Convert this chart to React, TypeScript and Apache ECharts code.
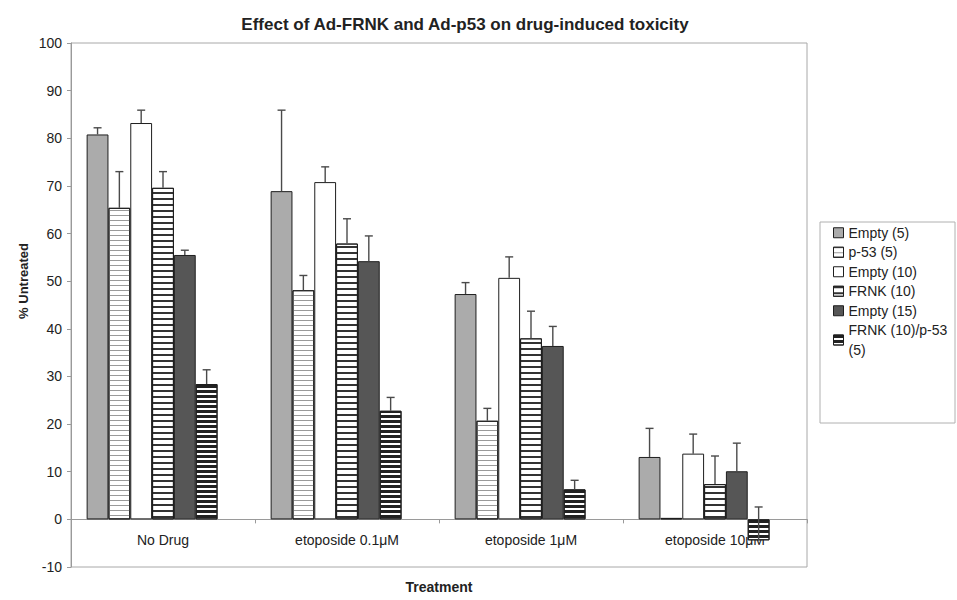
import React, { useEffect, useRef } from "react";
import * as echarts from "echarts";

const categories = ["No Drug", "etoposide 0.1μM", "etoposide 1μM", "etoposide 10μM"];
const seriesNames = ["Empty (5)", "p-53 (5)", "Empty (10)", "FRNK (10)", "Empty (15)", "FRNK (10)/p-53 (5)"];

const empty5 = [80.8, 68.9, 47.3, 13.1];
const p53_5 = [65.4, 48.1, 20.7, 0.3];
const empty10 = [83.2, 70.8, 50.7, 13.8];
const frnk10 = [69.6, 57.9, 38.0, 7.4];
const empty15 = [55.5, 54.2, 36.4, 10.1];
const frnkP53 = [28.4, 22.8, 6.3, -4.4];

// upper end of each error bar
const empty5Err = [82.2, 85.9, 49.7, 19.1];
const p53_5Err = [73.0, 51.2, 23.3, null];
const empty10Err = [85.9, 74.0, 55.1, 17.9];
const frnk10Err = [73.0, 63.1, 43.7, 13.3];
const empty15Err = [56.5, 59.5, 40.5, 16.0];
const frnkP53Err = [31.4, 25.6, 8.2, 2.6];

const yTicks = { min: -10, max: 100, interval: 10 };

const values = [empty5, p53_5, empty10, frnk10, empty15, frnkP53];
const errors = [empty5Err, p53_5Err, empty10Err, frnk10Err, empty15Err, frnkP53Err];

const FONT = "Liberation Sans, Arial, sans-serif";
const GAP = 0.17;
const SLOTS = 7;

const stripe = (thick: number, gap: number, color: string) => ({
  symbol: "rect",
  symbolSize: 1,
  dashArrayX: [10, 0],
  dashArrayY: [thick, gap],
  rotation: 0,
  color,
});

const seriesStyles: any[] = [
  { color: "#ababab" },
  { color: "#ffffff", decal: stripe(1, 3.5, "#9a9a9a") },
  { color: "#ffffff" },
  { color: "#ffffff", decal: stripe(1.5, 3.8, "#333333") },
  { color: "#565656" },
  { color: "#ffffff", decal: stripe(2.4, 2, "#222222") },
];

export default function App() {
  const ref = useRef<HTMLDivElement>(null);
  useEffect(() => {
    if (!ref.current) return;
    const chart = echarts.init(ref.current, undefined, { renderer: "svg" });

    const errData: any[] = [];
    errors.forEach((arr, s) => {
      arr.forEach((top, c) => {
        if (top !== null) errData.push([c, s, values[s][c], top]);
      });
    });

    const barSeries: any[] = seriesNames.map((name, i) => ({
      name,
      type: "bar",
      data: values[i],
      barGap: "0%",
      barCategoryGap: GAP * 100 + "%",
      itemStyle: { ...seriesStyles[i], borderColor: "#1e1e1e", borderWidth: 1 },
      emphasis: { disabled: true },
    }));
    // empty reserved slot (as in original chart, bars sit left of center)
    barSeries.push({
      name: "__spacer",
      type: "bar",
      data: ["-", "-", "-", "-"],
      barGap: "0%",
      barCategoryGap: GAP * 100 + "%",
    });

    chart.setOption({
      animation: false,
      title: {
        text: "Effect of Ad-FRNK and Ad-p53 on drug-induced toxicity",
        left: 460,
        top: 11,
        textAlign: "center",
        textStyle: { fontFamily: FONT, fontSize: 17, fontWeight: "bold", color: "#222" },
      },
      grid: {
        left: 71,
        right: 150,
        top: 43,
        bottom: 33,
        show: true,
        borderColor: "#a8a8a8",
        borderWidth: 1,
        backgroundColor: "transparent",
      },
      legend: {
        data: seriesNames,
        orient: "vertical",
        left: 833,
        top: 223,
        padding: 0,
        itemGap: 0,
        itemWidth: 10,
        itemHeight: 10,
        icon: "rect",
        formatter: (n: string) => (n === "FRNK (10)/p-53 (5)" ? "FRNK (10)/p-53\n(5)" : n),
        textStyle: { fontFamily: FONT, fontSize: 14, color: "#222", lineHeight: 19.5 },
        itemStyle: { borderColor: "#1e1e1e", borderWidth: 1 },
        selectedMode: false,
      },
      xAxis: {
        type: "category",
        data: categories,
        axisLine: { onZero: true, lineStyle: { color: "#9a9a9a", width: 1 } },
        axisTick: { show: true, length: 4, alignWithLabel: false, lineStyle: { color: "#9a9a9a" } },
        axisLabel: { interval: 0, margin: -34, fontFamily: FONT, fontSize: 14, color: "#222" },
        splitLine: { show: false },
      },
      yAxis: {
        type: "value",
        min: yTicks.min,
        max: yTicks.max,
        interval: yTicks.interval,
        axisLine: { show: true, lineStyle: { color: "#9a9a9a", width: 1 } },
        axisTick: { show: true, length: 4, lineStyle: { color: "#9a9a9a" } },
        axisLabel: { margin: 9, fontFamily: FONT, fontSize: 14, color: "#222" },
        splitLine: { show: false },
      },
      graphic: [
        {
          type: "rect",
          shape: { x: 820, y: 222, width: 135, height: 201 },
          style: { fill: "none", stroke: "#b0b0b0", lineWidth: 1 },
          silent: true,
        },
        {
          type: "text",
          x: 23,
          y: 281,
          rotation: Math.PI / 2,
          style: {
            text: "% Untreated",
            fontFamily: FONT,
            fontSize: 13,
            fontWeight: "bold",
            fill: "#222",
            textAlign: "center",
            textVerticalAlign: "middle",
          },
        },
        {
          type: "text",
          x: 439,
          y: 587,
          style: {
            text: "Treatment",
            fontFamily: FONT,
            fontSize: 14,
            fontWeight: "bold",
            fill: "#222",
            textAlign: "center",
            textVerticalAlign: "middle",
          },
        },
      ],
      series: [
        ...barSeries,
        {
          type: "custom",
          name: "errors",
          z: 10,
          silent: true,
          data: errData,
          encode: { x: 0, y: [2, 3] },
          renderItem: (params: any, api: any) => {
            const c = api.value(0);
            const s = api.value(1);
            const v = api.value(2);
            const top = api.value(3);
            const band = api.size([1, 0])[0];
            const groupW = band * (1 - GAP);
            const bw = groupW / SLOTS;
            const p0 = api.coord([c, v]);
            const p1 = api.coord([c, top]);
            const x = p0[0] - groupW / 2 + (s + 0.5) * bw;
            const st = { stroke: "#4a4a4a", lineWidth: 1.4 };
            return {
              type: "group",
              children: [
                { type: "line", shape: { x1: x, y1: p0[1], x2: x, y2: p1[1] }, style: st },
                { type: "line", shape: { x1: x - 4, y1: p1[1], x2: x + 4, y2: p1[1] }, style: st },
              ],
            };
          },
        },
      ],
    });
    return () => chart.dispose();
  }, []);
  return (
    <div
      ref={ref}
      style={{ position: "fixed", left: 0, top: 0, width: 957, height: 600, background: "#fff" }}
    />
  );
}
